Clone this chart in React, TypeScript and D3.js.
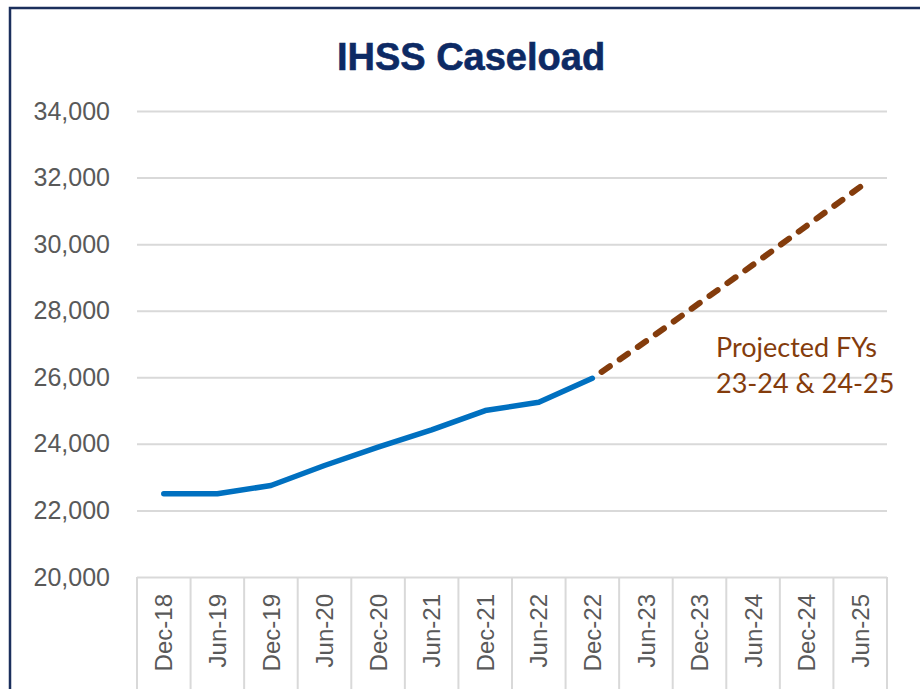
import React, { useEffect, useRef } from 'react';
import * as d3 from 'd3';

const categories = ['Dec-18', 'Jun-19', 'Dec-19', 'Jun-20', 'Dec-20', 'Jun-21', 'Dec-21',
  'Jun-22', 'Dec-22', 'Jun-23', 'Dec-23', 'Jun-24', 'Dec-24', 'Jun-25'];

// actual caseload, Dec-18 .. Dec-22
const actual = [22500, 22500, 22750, 23350, 23900, 24420, 25000, 25250, 25970];

// projection, Dec-22 .. Jun-25
const projectedLabels = ['Dec-22', 'Jun-23', 'Dec-23', 'Jun-24', 'Dec-24', 'Jun-25'];
const projected = [25970, 27080, 28230, 29380, 30550, 31720];

const yTicks = [20000, 22000, 24000, 26000, 28000, 30000, 32000, 34000];

const title = 'IHSS Caseload';
const noteLines = ['Projected FYs', '23-24 & 24-25'];

const W = 920;
const H = 689;

export default function App() {
  const ref = useRef<SVGSVGElement>(null);

  useEffect(() => {
    const svg = d3.select(ref.current);
    svg.selectAll('*').remove();

    const left = 137, right = 887, top = 111, bottom = 577;

    const x = d3.scaleBand().domain(categories).range([left, right]);
    const y = d3.scaleLinear().domain([20000, 34000]).range([bottom, top]);
    const cx = (c: string) => (x(c) as number) + x.bandwidth() / 2;

    svg.append('rect').attr('width', W).attr('height', H).attr('fill', '#fff');

    // outer frame (right and bottom run off the picture)
    svg.append('rect')
      .attr('x', 10).attr('y', 8)
      .attr('width', W + 20).attr('height', H + 20)
      .attr('fill', 'none')
      .attr('stroke', '#1b2f5c')
      .attr('stroke-width', 2.5);

    // title
    svg.append('text')
      .attr('x', 471).attr('y', 70)
      .attr('text-anchor', 'middle')
      .attr('font-family', '"Liberation Sans", Arial, sans-serif')
      .attr('font-weight', 'bold')
      .attr('font-size', 38)
      .attr('fill', '#0d2a64')
      .attr('stroke', '#0d2a64')
      .attr('stroke-width', 0.6)
      .text(title);

    // y axis with gridlines
    const yAxis = svg.append('g')
      .attr('transform', `translate(${left},0)`)
      .call(d3.axisLeft(y).tickValues(yTicks).tickFormat(d3.format(',')).tickSize(-(right - left)).tickPadding(27));
    yAxis.select('.domain').remove();
    yAxis.selectAll('line').attr('stroke', '#d9d9d9').attr('stroke-width', 2);
    yAxis.selectAll('text')
      .attr('font-family', '"Liberation Sans", Arial, sans-serif')
      .attr('font-size', 25)
      .attr('fill', '#595959');

    // category table under the plot
    const bounds = categories.map(c => x(c) as number).concat([right]);
    svg.append('g').selectAll('line')
      .data(bounds)
      .join('line')
      .attr('x1', d => d).attr('x2', d => d)
      .attr('y1', bottom).attr('y2', H + 10)
      .attr('stroke', '#d9d9d9')
      .attr('stroke-width', 2);

    svg.append('g').selectAll('text')
      .data(categories)
      .join('text')
      .attr('transform', d => `translate(${cx(d)},594) rotate(-90)`)
      .attr('text-anchor', 'end')
      .attr('dy', '0.36em')
      .attr('font-family', '"Liberation Sans", Arial, sans-serif')
      .attr('font-size', 24)
      .attr('fill', '#595959')
      .text(d => d);

    const line = d3.line<number>()
      .x((d, i) => cx(categories[i]))
      .y(d => y(d));

    svg.append('path')
      .attr('d', line(actual))
      .attr('fill', 'none')
      .attr('stroke', '#0070c0')
      .attr('stroke-width', 5.5)
      .attr('stroke-linejoin', 'round')
      .attr('stroke-linecap', 'round');

    const projLine = d3.line<number>()
      .x((d, i) => cx(projectedLabels[i]))
      .y(d => y(d));

    const dash = 10, gap = 12;
    const proj = svg.append('path')
      .attr('d', projLine(projected))
      .attr('fill', 'none')
      .attr('stroke', '#843c0c')
      .attr('stroke-width', 6)
      .attr('stroke-dasharray', `${dash},${gap}`)
      .attr('stroke-linecap', 'round');
    // make the dashes finish on the last point
    const len = (proj.node() as SVGPathElement).getTotalLength();
    const period = dash + gap;
    const offset = (((dash - len) % period) + period) % period;
    proj.attr('stroke-dashoffset', offset);

    // annotation
    const note = svg.append('text')
      .attr('font-family', 'Lato, "Open Sans", sans-serif')
      .attr('font-size', 27)
      .attr('fill', '#843c0c');
    noteLines.forEach((t, i) => {
      note.append('tspan').attr('x', 716).attr('y', 357 + i * 36).text(t);
    });
  }, []);

  return (
    <svg ref={ref} width={W} height={H}
      style={{ position: 'absolute', left: 0, top: 0, display: 'block' }} />
  );
}
